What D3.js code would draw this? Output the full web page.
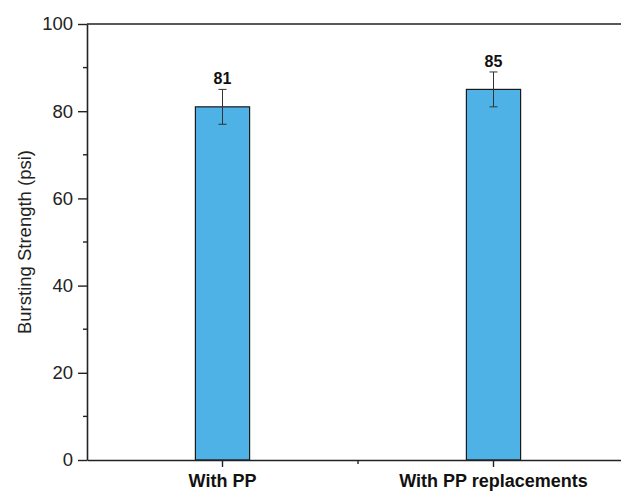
<!DOCTYPE html>
<html>
<head>
<meta charset="utf-8">
<script src="https://cdn.jsdelivr.net/npm/d3@7"></script>
<style>
  body { margin: 0; background: #fff; }
  svg { display: block; font-family: Arial, "Liberation Sans", sans-serif; }
</style>
</head>
<body>
<svg id="chart" width="621" height="503"></svg>
<script>
// chart data
const categories = ["With PP", "With PP replacements"];
const values = [81, 85];
const errors = [4, 4];
const yTicks = [0, 20, 40, 60, 80, 100];

const svg = d3.select("#chart");
const margin = { left: 87, top: 24, right: 629, bottom: 460 };

// Scales
const x = d3.scaleBand().domain(categories).range([margin.left, margin.right]).padding(0);
const y = d3.scaleLinear().domain([0, 100]).range([margin.bottom, margin.top]);
const barW = x.bandwidth() * 0.2;

// Frame lines (top and right)
svg.append("line")
  .attr("x1", margin.left).attr("x2", margin.right)
  .attr("y1", margin.top).attr("y2", margin.top)
  .attr("stroke", "#222").attr("stroke-width", 1.6);
svg.append("line")
  .attr("x1", margin.right).attr("x2", margin.right)
  .attr("y1", margin.top).attr("y2", margin.bottom)
  .attr("stroke", "#222").attr("stroke-width", 1.6);

// Bars
svg.append("g").selectAll("rect")
  .data(categories)
  .join("rect")
    .attr("x", d => x(d) + x.bandwidth() / 2 - barW / 2)
    .attr("y", (d, i) => y(values[i]))
    .attr("width", barW)
    .attr("height", (d, i) => y(0) - y(values[i]))
    .attr("fill", "#4eb2e6")
    .attr("stroke", "#1a1a1a")
    .attr("stroke-width", 1.2);

// Error bars
const err = svg.append("g").attr("stroke", "#333").attr("stroke-width", 1);
categories.forEach((c, i) => {
  const cx = x(c) + x.bandwidth() / 2;
  err.append("line").attr("x1", cx).attr("x2", cx)
    .attr("y1", y(values[i] + errors[i])).attr("y2", y(values[i] - errors[i]));
  [values[i] + errors[i], values[i] - errors[i]].forEach(v => {
    err.append("line").attr("x1", cx - 4).attr("x2", cx + 4)
      .attr("y1", y(v)).attr("y2", y(v));
  });
});

// Value labels
svg.append("g").selectAll("text")
  .data(categories)
  .join("text")
    .attr("x", d => x(d) + x.bandwidth() / 2)
    .attr("y", (d, i) => y(values[i] + errors[i]) - 5)
    .attr("text-anchor", "middle")
    .attr("font-size", 16)
    .attr("font-weight", "bold")
    .attr("fill", "#111")
    .text((d, i) => values[i]);

// Y axis
const yAxis = svg.append("g")
  .attr("transform", `translate(${margin.left},0)`)
  .call(d3.axisLeft(y).tickValues(yTicks).tickSize(9).tickPadding(5).tickSizeOuter(0));
yAxis.select(".domain").attr("stroke", "#222").attr("stroke-width", 1.6);
yAxis.selectAll(".tick line").attr("stroke", "#222").attr("stroke-width", 1.4);
yAxis.selectAll(".tick text").attr("font-size", 18.5).attr("fill", "#222");
// minor ticks
svg.append("g").selectAll("line")
  .data(d3.range(10, 100, 20))
  .join("line")
    .attr("x1", margin.left - 4).attr("x2", margin.left)
    .attr("y1", d => y(d)).attr("y2", d => y(d))
    .attr("stroke", "#222").attr("stroke-width", 1.4);

// X axis
const xAxis = svg.append("g")
  .attr("transform", `translate(0,${margin.bottom})`)
  .call(d3.axisBottom(x).tickSize(7).tickPadding(7).tickSizeOuter(0));
xAxis.select(".domain").attr("stroke", "#222").attr("stroke-width", 1.6);
xAxis.selectAll(".tick line").attr("stroke", "#222").attr("stroke-width", 1.4);
xAxis.selectAll(".tick text").attr("font-size", 18).attr("font-weight", "bold").attr("fill", "#111");
// minor tick between categories
svg.append("line")
  .attr("x1", x(categories[1])).attr("x2", x(categories[1]))
  .attr("y1", margin.bottom).attr("y2", margin.bottom + 4)
  .attr("stroke", "#222").attr("stroke-width", 1.4);

// Y axis title
svg.append("text")
  .attr("transform", `translate(31,${(margin.top + margin.bottom) / 2}) rotate(-90)`)
  .attr("text-anchor", "middle")
  .attr("font-size", 18.5)
  .attr("fill", "#222")
  .text("Bursting Strength (psi)");
</script>
</body>
</html>
